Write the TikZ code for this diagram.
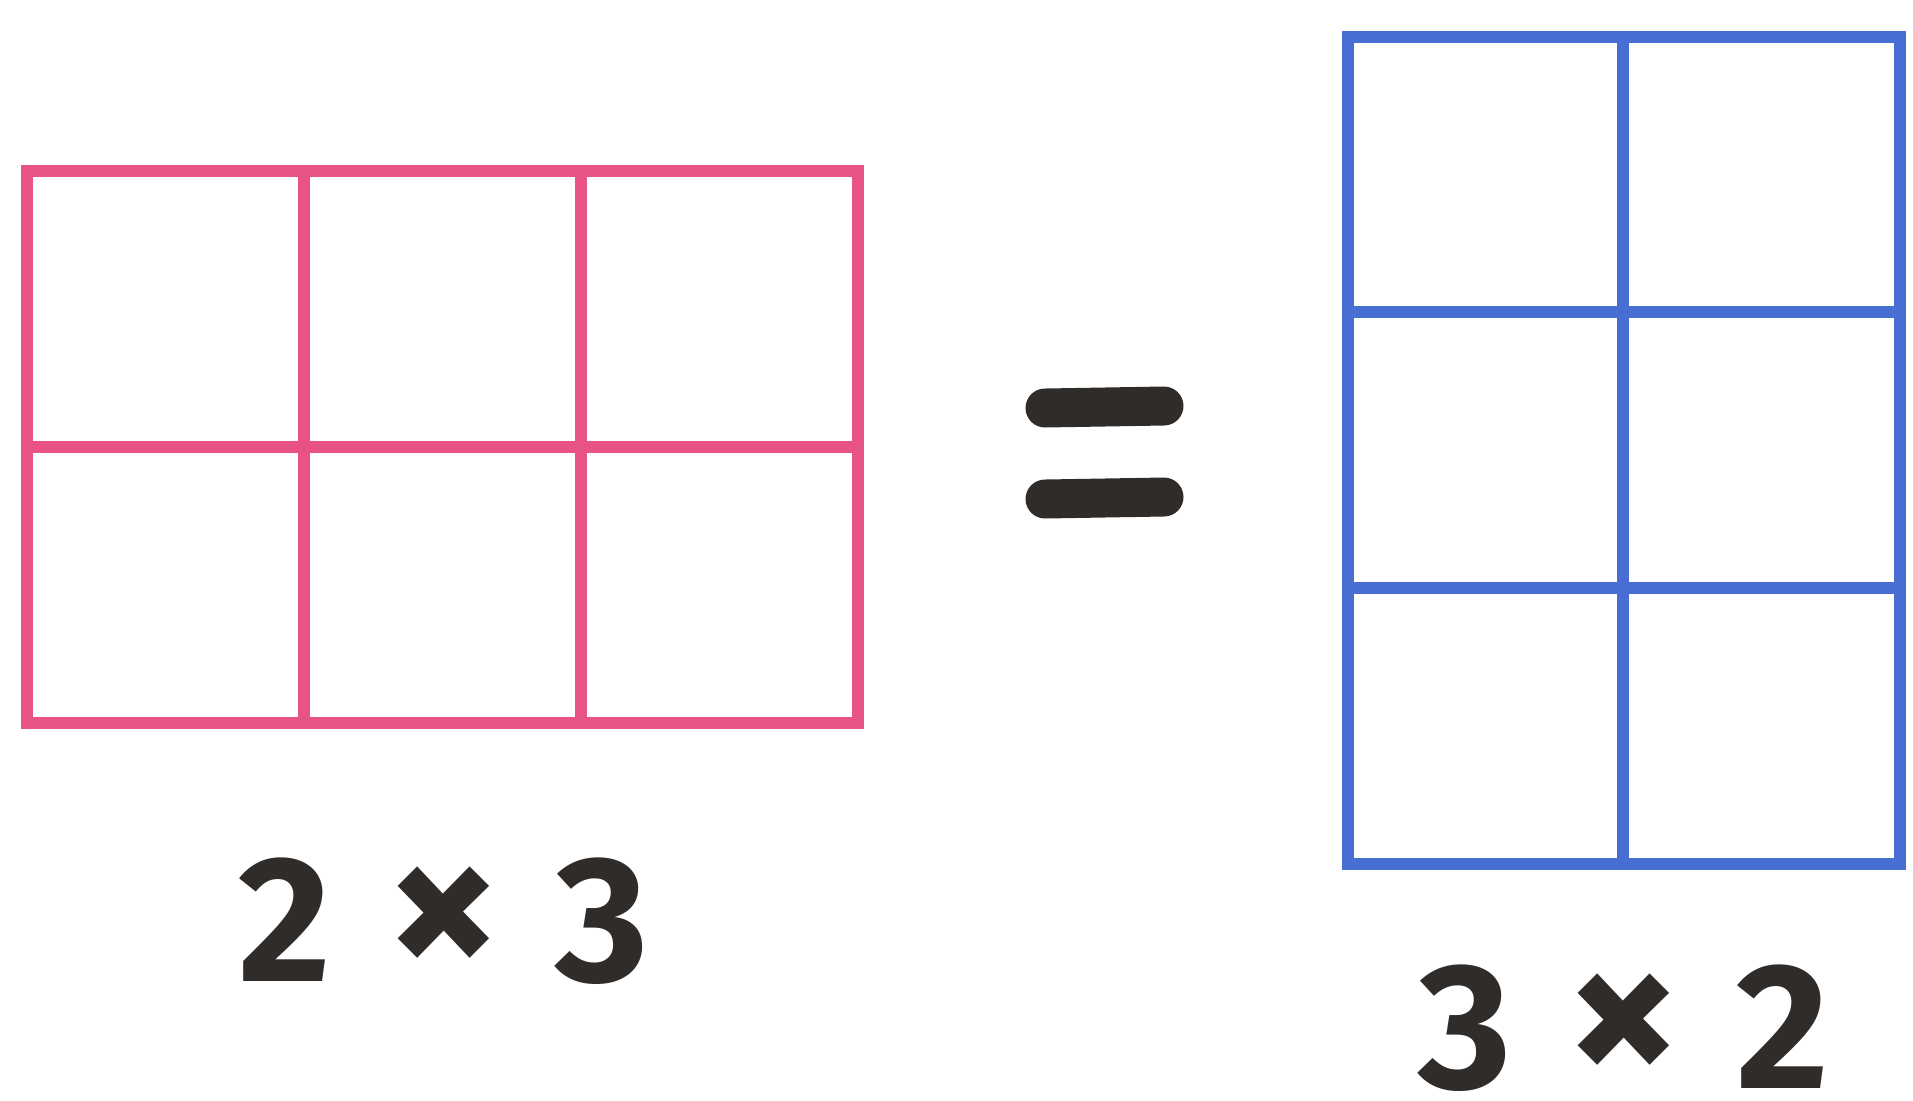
\documentclass[tikz,border=0pt]{standalone}
\usepackage{fontspec}
\setmainfont{Fira Sans}
\usetikzlibrary{positioning}

\definecolor{gridpink}{RGB}{233,82,132}
\definecolor{gridblue}{RGB}{72,110,212}
\definecolor{markerink}{RGB}{48,44,42}

\newcommand{\bigtimes}{{\fontsize{128}{128}\selectfont ×}}

\begin{document}
\begin{tikzpicture}[x=0.02cm,y=-0.02cm,line cap=rect]
        \tikzset{
            pinkgrid/.style={draw=gridpink,line width=0.24cm},
            bluegrid/.style={draw=gridblue,line width=0.24cm},
            eqbar/.style={draw=markerink,line width=0.78cm,line cap=round},
            prodlabel/.style={text=markerink,font=\fontsize{102}{110}\selectfont\bfseries,inner sep=0pt}
        }
        \useasboundingbox (0,0) rectangle (1913,1100);
        % 2 rows, 3 columns
        \draw[pinkgrid] (27,171) rectangle (858,723);
        \foreach \x in {304,581} {
            \draw[pinkgrid] (\x,171) -- (\x,723);
        }
        \draw[pinkgrid] (27,447) -- (858,447);
        % 3 rows, 2 columns
        \draw[bluegrid] (1348,37) rectangle (1900,864);
        \draw[bluegrid] (1623,37) -- (1623,864);
        \foreach \y in {312,588} {
            \draw[bluegrid] (1348,\y) -- (1900,\y);
        }
        % equals sign
        \coordinate (eqtopL) at (1045,408);
        \coordinate (eqtopR) at (1164,406);
        \coordinate (eqbotL) at (1045,499);
        \coordinate (eqbotR) at (1164,497);
        \draw[eqbar] (eqtopL) -- (eqtopR);
        \draw[eqbar] (eqbotL) -- (eqbotR);
        \node[prodlabel] (pinklabel) at (444,921) {2\hspace{0.3em}\bigtimes\hspace{0.3em}3};
        \node[prodlabel] (bluelabel) at (1624,1028) {3\hspace{0.3em}\bigtimes\hspace{0.3em}2};
    \end{tikzpicture}
\end{document}
